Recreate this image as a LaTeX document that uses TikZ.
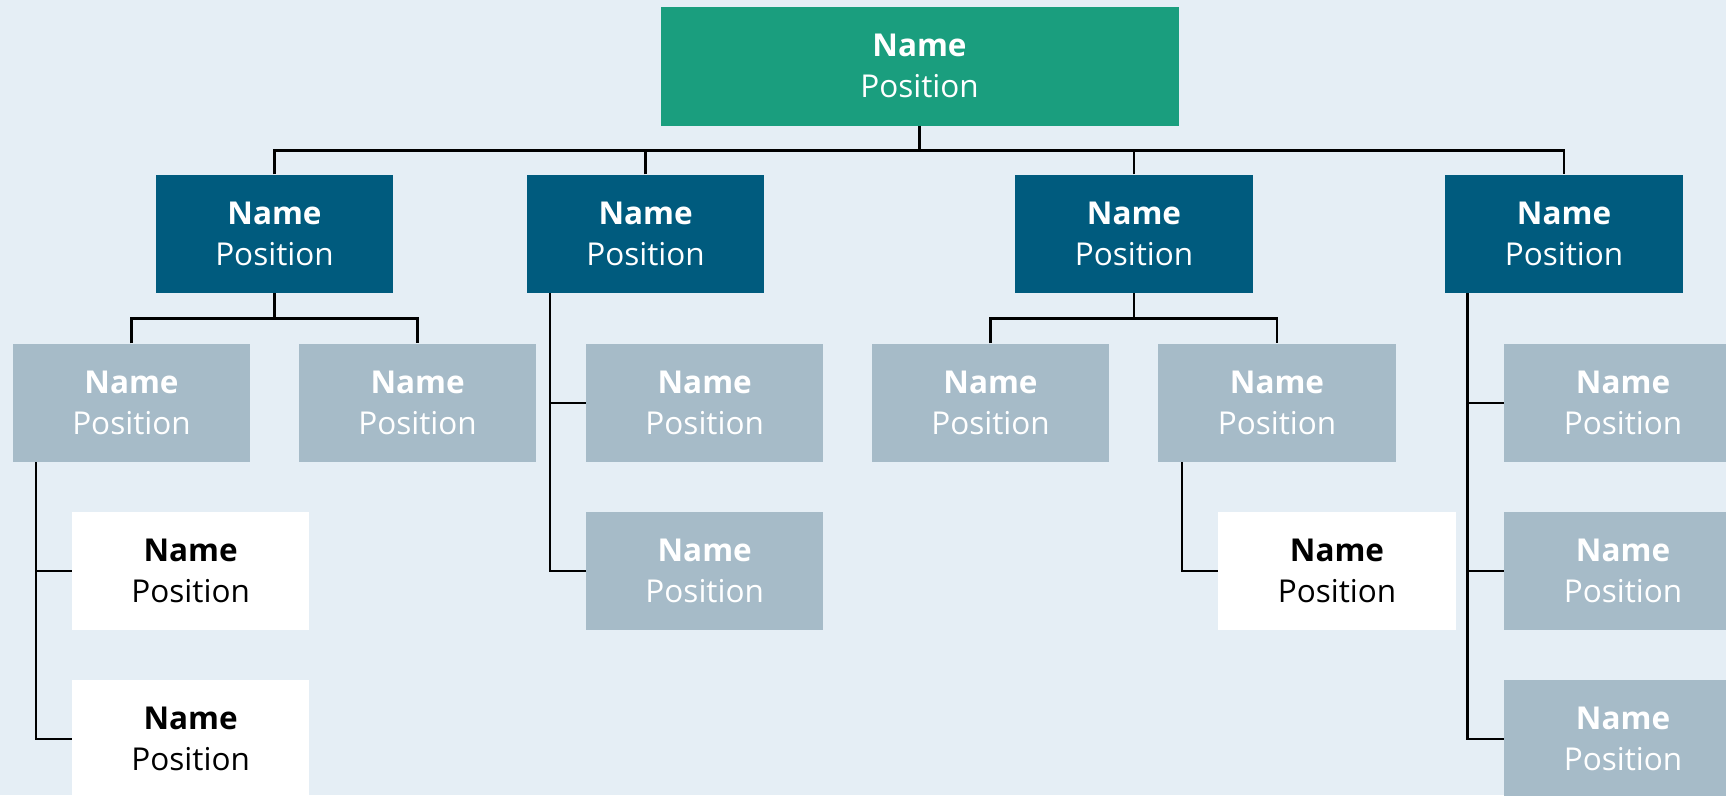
\documentclass[tikz,border=0pt]{standalone}
\usepackage{fontspec}
\setmainfont{Open Sans}
\definecolor{cbg}{HTML}{E5EEF5}
\definecolor{cgreen}{HTML}{1A9E7E}
\definecolor{cblue}{HTML}{005B7E}
\definecolor{cgray}{HTML}{A6BBC8}
\begin{document}
\begin{tikzpicture}[x=1pt,y=-1pt,
  anybox/.style={minimum width=237.5pt, minimum height=118.5pt, inner sep=0pt,
    align=center, text=white, font=\fontsize{31.5}{41}\selectfont},
  rootbox/.style={anybox, fill=cgreen, minimum width=518pt, minimum height=119pt},
  headbox/.style={anybox, fill=cblue},
  subbox/.style={anybox, fill=cgray},
  leafbox/.style={anybox, fill=white, text=black},
  conn/.style={draw=black, line width=2.5pt, line join=miter}]
\useasboundingbox (0,0) rectangle (1726,795);
\clip (0,0) rectangle (1726,795);
\fill[cbg] (0,0) rectangle (1726,795);
% root
\node[rootbox] (root) at (919.5,66) {\textbf{Name}\\Position};
% level 2
\node[headbox] (h1) at (274.5,233.8) {\textbf{Name}\\Position};
\node[headbox] (h2) at (645.6,233.8) {\textbf{Name}\\Position};
\node[headbox] (h3) at (1134,233.8) {\textbf{Name}\\Position};
\node[headbox] (h4) at (1564,233.8) {\textbf{Name}\\Position};
% level 3
\node[subbox] (a1) at (131.5,402.8) {\textbf{Name}\\Position};
\node[subbox] (a2) at (417.6,402.8) {\textbf{Name}\\Position};
\node[subbox] (b1) at (704.7,402.8) {\textbf{Name}\\Position};
\node[subbox] (b2) at (704.7,570.8) {\textbf{Name}\\Position};
\node[subbox] (c1) at (990.5,402.8) {\textbf{Name}\\Position};
\node[subbox] (c2) at (1277,402.8) {\textbf{Name}\\Position};
\node[subbox] (d1) at (1623,402.8) {\textbf{Name}\\Position};
\node[subbox] (d2) at (1623,570.8) {\textbf{Name}\\Position};
\node[subbox] (d3) at (1623,738.8) {\textbf{Name}\\Position};
% leaves
\node[leafbox] (e1) at (190.7,570.8) {\textbf{Name}\\Position};
\node[leafbox] (e2) at (190.7,738.8) {\textbf{Name}\\Position};
\node[leafbox] (f1) at (1337,570.8) {\textbf{Name}\\Position};
% buses
\coordinate (busT) at (919.5,150.7);
\draw[conn] (root.south) -- (root.south |- busT);
\draw[conn] (h1.north) |- (h4.north |- busT) -- (h4.north);
\draw[conn] (h2.north) -- (h2.north |- busT);
\draw[conn] (h3.north) -- (h3.north |- busT);
\coordinate (busA) at (274.5,318.3);
\draw[conn] (h1.south) -- (h1.south |- busA);
\draw[conn] (a1.north) |- (a2.north |- busA) -- (a2.north);
\coordinate (busC) at (1134,318.3);
\draw[conn] (h3.south) -- (h3.south |- busC);
\draw[conn] (c1.north) |- (c2.north |- busC) -- (c2.north);
% side lines
\coordinate (sB) at ([xshift=23.5pt]h2.south west);
\draw[conn] (sB) |- (b2.west);
\draw[conn] (sB |- b1.west) -- (b1.west);
\coordinate (sD) at ([xshift=22.5pt]h4.south west);
\draw[conn] (sD) |- (d3.west);
\draw[conn] (sD |- d1.west) -- (d1.west);
\draw[conn] (sD |- d2.west) -- (d2.west);
\coordinate (sE) at ([xshift=23.2pt]a1.south west);
\draw[conn] (sE) |- (e2.west);
\draw[conn] (sE |- e1.west) -- (e1.west);
\coordinate (sF) at ([xshift=23.8pt]c2.south west);
\draw[conn] (sF) |- (f1.west);
\end{tikzpicture}
\end{document}
